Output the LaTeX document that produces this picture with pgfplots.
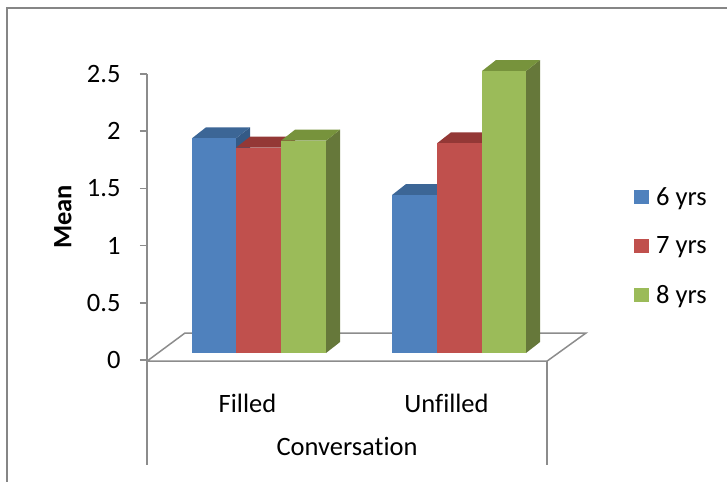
\documentclass[border=0pt]{standalone}
\usepackage{pgfplots}
\pgfplotsset{compat=1.18}
\usepackage{fontspec}
\setmainfont[Ligatures=NoCommon]{Carlito}
\definecolor{bF}{HTML}{4F81BD}\definecolor{bT}{HTML}{3C6696}\definecolor{bS}{HTML}{345A86}
\definecolor{rF}{HTML}{C0504D}\definecolor{rT}{HTML}{943836}\definecolor{rS}{HTML}{8B3331}
\definecolor{gF}{HTML}{9BBB59}\definecolor{gT}{HTML}{77933C}\definecolor{gS}{HTML}{66783A}
\definecolor{axgray}{HTML}{8C8C8C}
\definecolor{framegray}{HTML}{868686}
\newcommand{\fs}{\fontsize{26.5bp}{31bp}\selectfont}
\begin{document}
\begin{tikzpicture}
\begin{axis}[
  scale only axis, width=400bp, height=286bp,
  xmin=147, xmax=547, ymin=0, ymax=2.5,
  clip=false,
  axis y line*=left, axis x line*=bottom,
  x axis line style={draw=none}, y axis line style={draw=none},
  ytick={0,0.5,1,1.5,2,2.5},
  /pgf/number format/assume math mode=true,
  y tick label style={font=\fs, xshift=-16bp},
  tick align=outside, major tick length=7bp,
  y tick style={axgray, line width=1.5bp},
  xtick={247.5,446.5}, xticklabels={Filled,Unfilled},
  x tick style={draw=none},
  x tick label style={font=\fs, anchor=base, yshift=-45.7bp},
  ylabel={Mean},
  every axis y label/.style={at={(axis description cs:-0.21,0.5)}, rotate=90, anchor=center, font=\fs\bfseries},
  xlabel={Conversation},
  every axis x label/.style={at={(axis cs:347,-0.839)}, anchor=base, font=\fs},
  legend image code/.code={\fill[#1] (0bp,-7bp) rectangle (15bp,7bp);},
  legend style={at={(axis cs:634,0.997)}, anchor=west, draw=none, fill=none, font=\fs, row sep=26bp, column sep=5bp, inner sep=0pt},
  legend cell align=left,
]
% frame, floor and axis lines
\draw[framegray, line width=2bp] (axis cs:7,-1.3) rectangle (axis cs:760,3.077);
\addplot[draw=axgray, line width=1.5bp, forget plot] coordinates {(147,-0.01) (547,-0.01) (586,0.236) (185,0.236) (147,-0.01)};
\addplot[draw=axgray, line width=1.5bp, forget plot] coordinates {(147,2.5) (147,-0.918)};
\addplot[draw=axgray, line width=1.5bp, forget plot] coordinates {(547,-0.01) (547,-0.918)};
% Filled: 6 yrs
\addplot[fill=bS, draw=none, forget plot] coordinates {(236,0.061)(236,1.938)(250,2.034)(250,0.157)};
\addplot[fill=bT, draw=none, forget plot] coordinates {(192,1.938)(206,2.034)(250,2.034)(236,1.938)};
\addplot[fill=bF, draw=none, forget plot] coordinates {(192,0.061)(192,1.938)(236,1.938)(236,0.061)};
% Filled: 7 yrs
\addplot[fill=rS, draw=none, forget plot] coordinates {(281,0.061)(281,1.856)(295,1.952)(295,0.157)};
\addplot[fill=rT, draw=none, forget plot] coordinates {(236,1.856)(250,1.952)(295,1.952)(281,1.856)};
\addplot[fill=rF, draw=none, forget plot] coordinates {(236,0.061)(236,1.856)(281,1.856)(281,0.061)};
% Filled: 8 yrs
\addplot[fill=gS, draw=none, forget plot] coordinates {(326,0.061)(326,1.917)(340,2.013)(340,0.157)};
\addplot[fill=gT, draw=none, forget plot] coordinates {(281,1.917)(295,2.013)(340,2.013)(326,1.917)};
\addplot[fill=gF, draw=none, forget plot] coordinates {(281,0.061)(281,1.917)(326,1.917)(326,0.061)};
% Unfilled: 6 yrs
\addplot[fill=bS, draw=none, forget plot] coordinates {(437,0.061)(437,1.442)(451,1.538)(451,0.157)};
\addplot[fill=bT, draw=none, forget plot] coordinates {(392,1.442)(406,1.538)(451,1.538)(437,1.442)};
\addplot[fill=bF, draw=none, forget plot] coordinates {(392,0.061)(392,1.442)(437,1.442)(437,0.061)};
% Unfilled: 7 yrs
\addplot[fill=rS, draw=none, forget plot] coordinates {(482,0.061)(482,1.894)(496,1.990)(496,0.157)};
\addplot[fill=rT, draw=none, forget plot] coordinates {(437,1.894)(451,1.990)(496,1.990)(482,1.894)};
\addplot[fill=rF, draw=none, forget plot] coordinates {(437,0.061)(437,1.894)(482,1.894)(482,0.061)};
% Unfilled: 8 yrs
\addplot[fill=gS, draw=none, forget plot] coordinates {(526,0.061)(526,2.526)(540,2.622)(540,0.157)};
\addplot[fill=gT, draw=none, forget plot] coordinates {(482,2.526)(496,2.622)(540,2.622)(526,2.526)};
\addplot[fill=gF, draw=none, forget plot] coordinates {(482,0.061)(482,2.526)(526,2.526)(526,0.061)};
% legend
\addlegendimage{fill=bF, draw=none}\addlegendentry{6 yrs}
\addlegendimage{fill=rF, draw=none}\addlegendentry{7 yrs}
\addlegendimage{fill=gF, draw=none}\addlegendentry{8 yrs}
\coordinate (bbll) at (axis cs:0,-1.0577);
\coordinate (bbur) at (axis cs:727,3.1469);
\end{axis}
\pgfresetboundingbox
\path[use as bounding box] (bbll) rectangle (bbur);
\end{tikzpicture}
\end{document}
